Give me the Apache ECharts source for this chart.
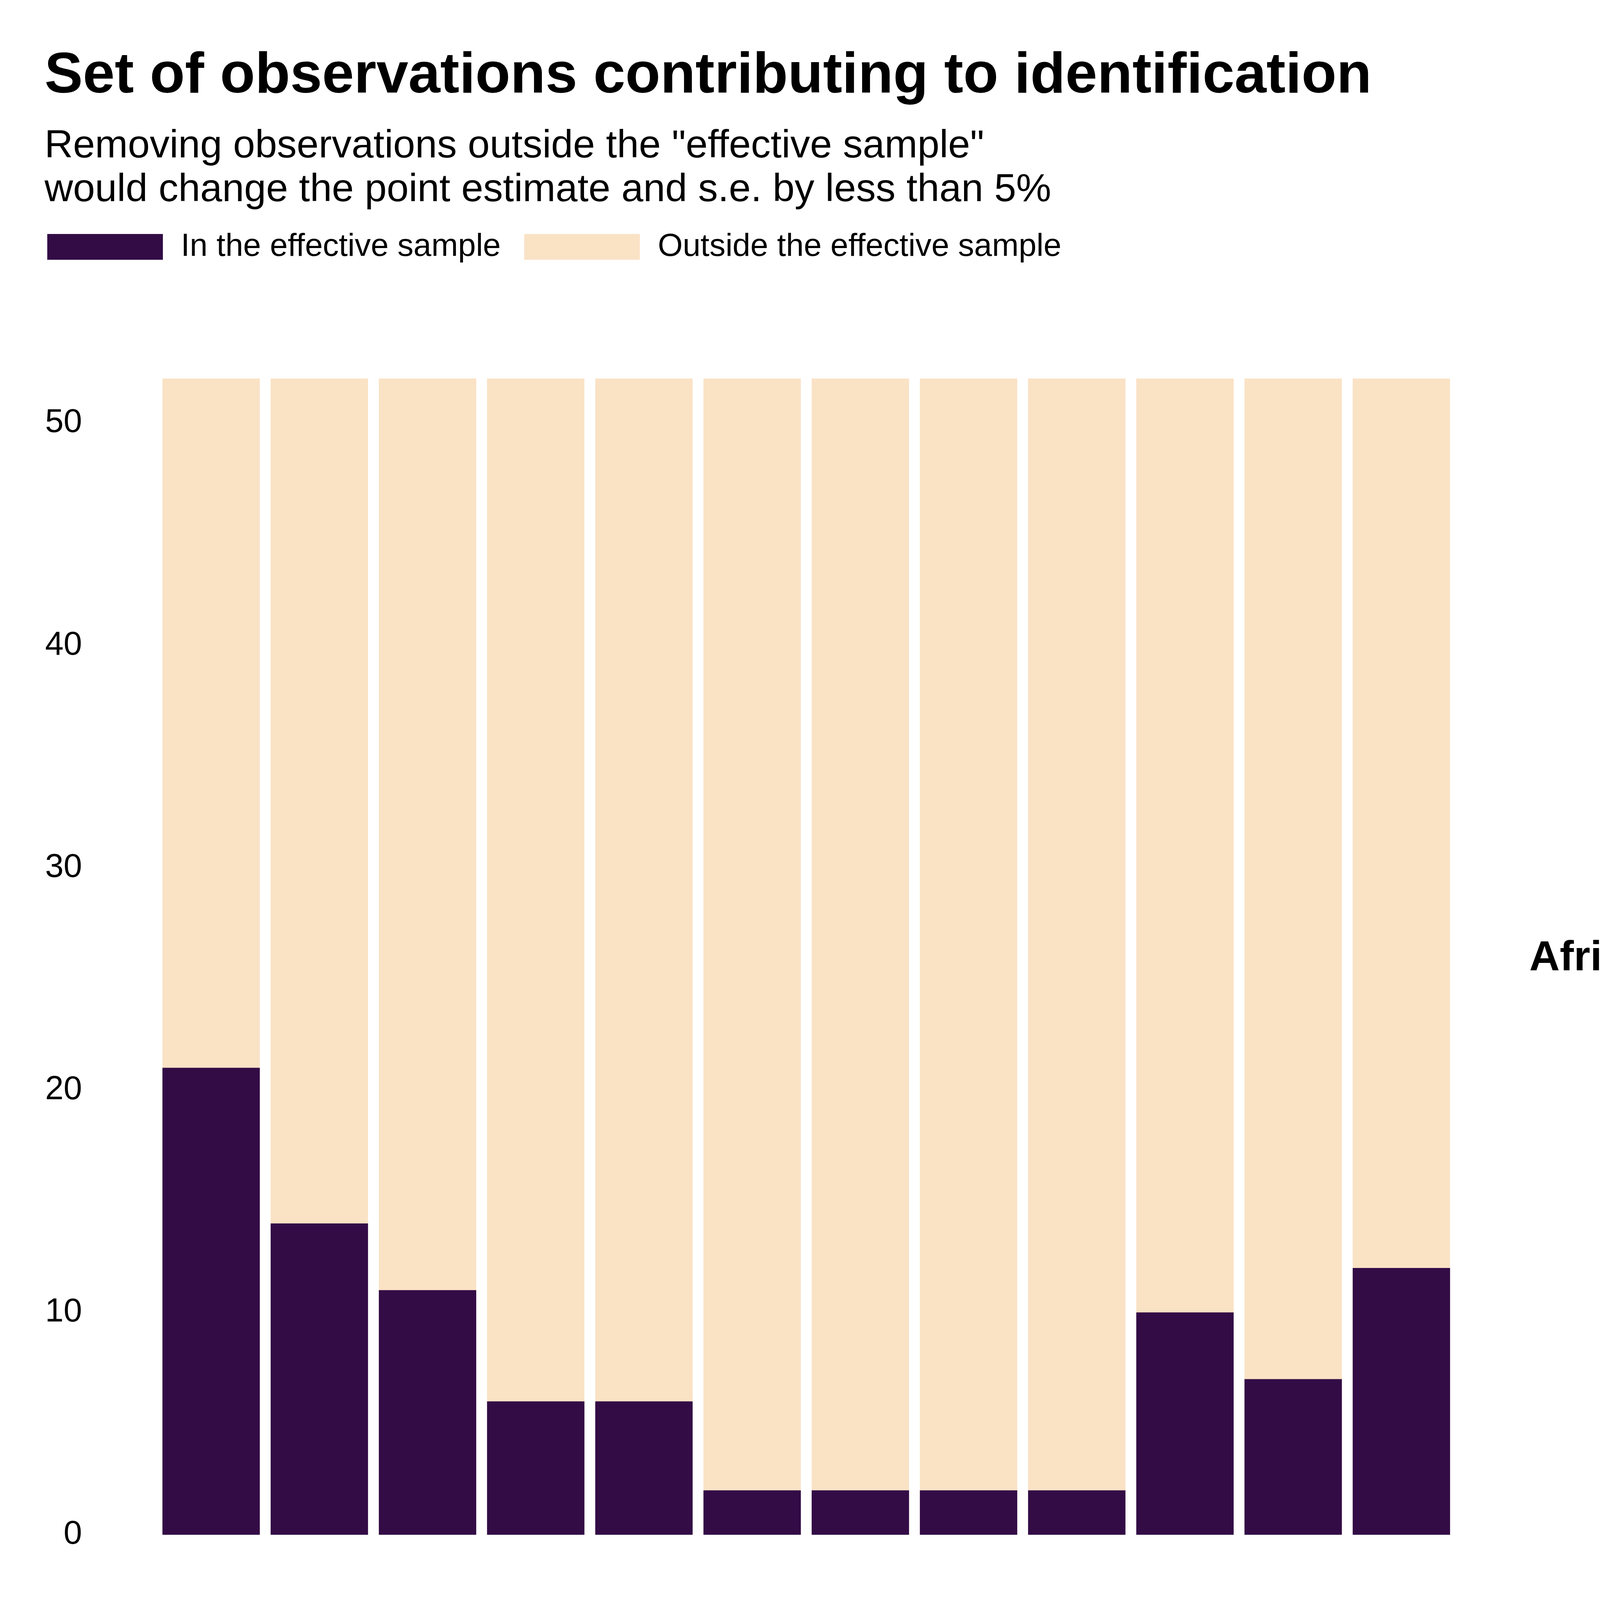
<!DOCTYPE html>
<html>
<head>
<meta charset="utf-8">
<script src="https://cdn.jsdelivr.net/npm/echarts@6/dist/echarts.min.js"></script>
<style>
  html, body { margin: 0; padding: 0; background: #ffffff; }
  #chart { width: 4375px; height: 6562px; }
</style>
</head>
<body>
<div id="chart"></div>
<script>
// ---- data ----
const years = [1952, 1957, 1962, 1967, 1972, 1977, 1982, 1987, 1992, 1997, 2002, 2007];
const africaIn  = [21, 14, 11, 6, 6, 2, 2, 2, 2, 10, 7, 12];
const africaOut = [31, 38, 41, 46, 46, 50, 50, 50, 50, 42, 45, 40];
const europeIn  = [30, 29, 16, 2, 0, 1, 3, 4, 4, 14, 21, 27];
const europeOut = [0, 1, 14, 28, 30, 29, 27, 26, 26, 16, 9, 3];
const africaTicks = [0, 10, 20, 30, 40, 50];
const europeTicks = [0, 10, 20, 30];
const yearTicks = [1960, 1980, 2000];
const seriesNames = ['In the effective sample', 'Outside the effective sample'];
const panelNames = ['Africa', 'Europe'];

// ---- layout / style ----
const W = 4375;
const FONT = '"Liberation Sans", Arial, Helvetica, sans-serif';
const DARK = '#330C46';
const LIGHT = '#FAE2C5';
const gridLeft = 251, gridRight = 498;
const plotW = W - gridLeft - gridRight;
const xMin = 1946.775, xMax = 2012.225;
const barW = 4.5 * plotW / (xMax - xMin);
const gA = { top: 969, height: 2960 };
const gE = { top: 4378, height: 1708 };

// the "outside" segment sits on top of the "in" segment: draw the full column
// (in + outside) in the light colour and overlay the "in" part in the dark colour
const africaTotal = africaIn.map((v, i) => v + africaOut[i]);
const europeTotal = europeIn.map((v, i) => v + europeOut[i]);
const pair = (arr) => arr.map((v, i) => [years[i], v]);

const yAxisCommon = {
  type: 'value', min: 0,
  axisLine: { show: false }, axisTick: { show: false }, splitLine: { show: false },
};
const labelStyle = { color: '#000', fontSize: 85, fontFamily: FONT };

const chart = echarts.init(document.getElementById('chart'), null, { renderer: 'canvas' });
chart.setOption({
  animation: false,
  backgroundColor: '#ffffff',
  title: [
    {
      text: 'Set of observations contributing to identification',
      left: 114, top: 123, padding: 0,
      textStyle: { fontFamily: FONT, fontSize: 147, fontWeight: 'bold', color: '#000', lineHeight: 147 }
    },
    {
      text: 'Removing observations outside the "effective sample"\nwould change the point estimate and s.e. by less than 5%',
      left: 114, top: 319, padding: 0,
      textStyle: { fontFamily: FONT, fontSize: 101, fontWeight: 'normal', color: '#000', lineHeight: 112 }
    }
  ],
  legend: {
    data: seriesNames,
    icon: 'rect',
    left: 121, top: 591, padding: 0,
    itemWidth: 296, itemHeight: 66, itemGap: 60,
    selectedMode: false,
    textStyle: { fontFamily: FONT, fontSize: 82, color: '#000', lineHeight: 66, padding: [0, 0, 0, 41] }
  },
  grid: [
    { left: gridLeft, right: gridRight, top: gA.top, height: gA.height },
    { left: gridLeft, right: gridRight, top: gE.top, height: gE.height }
  ],
  xAxis: [
    {
      gridIndex: 0, type: 'value', min: xMin, max: xMax,
      axisLine: { show: false }, axisTick: { show: false }, splitLine: { show: false },
      axisLabel: { show: false }
    },
    {
      gridIndex: 1, type: 'value', min: xMin, max: xMax,
      axisLine: { show: false }, axisTick: { show: false }, splitLine: { show: false },
      axisLabel: Object.assign({
        customValues: yearTicks, margin: 162, verticalAlign: 'middle', lineHeight: 85,
        formatter: (v) => String(v)
      }, labelStyle)
    }
  ],
  yAxis: [
    Object.assign({ gridIndex: 0, max: Math.max(...africaTotal),
      axisLabel: Object.assign({ customValues: africaTicks, margin: 41 }, labelStyle) }, yAxisCommon),
    Object.assign({ gridIndex: 1, max: Math.max(...europeTotal),
      axisLabel: Object.assign({ customValues: europeTicks, margin: 41 }, labelStyle) }, yAxisCommon)
  ],
  series: [
    { name: seriesNames[1], type: 'bar', xAxisIndex: 0, yAxisIndex: 0, barGap: '-100%',
      barWidth: barW, itemStyle: { color: LIGHT }, data: pair(africaTotal) },
    { name: seriesNames[0], type: 'bar', xAxisIndex: 0, yAxisIndex: 0, barGap: '-100%',
      barWidth: barW, itemStyle: { color: DARK }, data: pair(africaIn) },
    { name: seriesNames[1], type: 'bar', xAxisIndex: 1, yAxisIndex: 1, barGap: '-100%',
      barWidth: barW, itemStyle: { color: LIGHT }, data: pair(europeTotal) },
    { name: seriesNames[0], type: 'bar', xAxisIndex: 1, yAxisIndex: 1, barGap: '-100%',
      barWidth: barW, itemStyle: { color: DARK }, data: pair(europeIn) }
  ],
  graphic: [
    { type: 'text', x: 4068, y: gA.top + gA.height / 2 + 5,
      style: { text: panelNames[0], font: 'bold 108px ' + FONT, fill: '#000', align: 'center', verticalAlign: 'middle' } },
    { type: 'text', x: 4068, y: gE.top + gE.height / 2 + 5,
      style: { text: panelNames[1], font: 'bold 108px ' + FONT, fill: '#000', align: 'center', verticalAlign: 'middle' } },
    { type: 'text', x: 3872, y: 6412,
      style: { text: 'Model: lifeExp ~ l_gdpPercap | country', font: '73px ' + FONT, fill: '#000', align: 'right', verticalAlign: 'middle' } }
  ]
});
</script>
</body>
</html>
